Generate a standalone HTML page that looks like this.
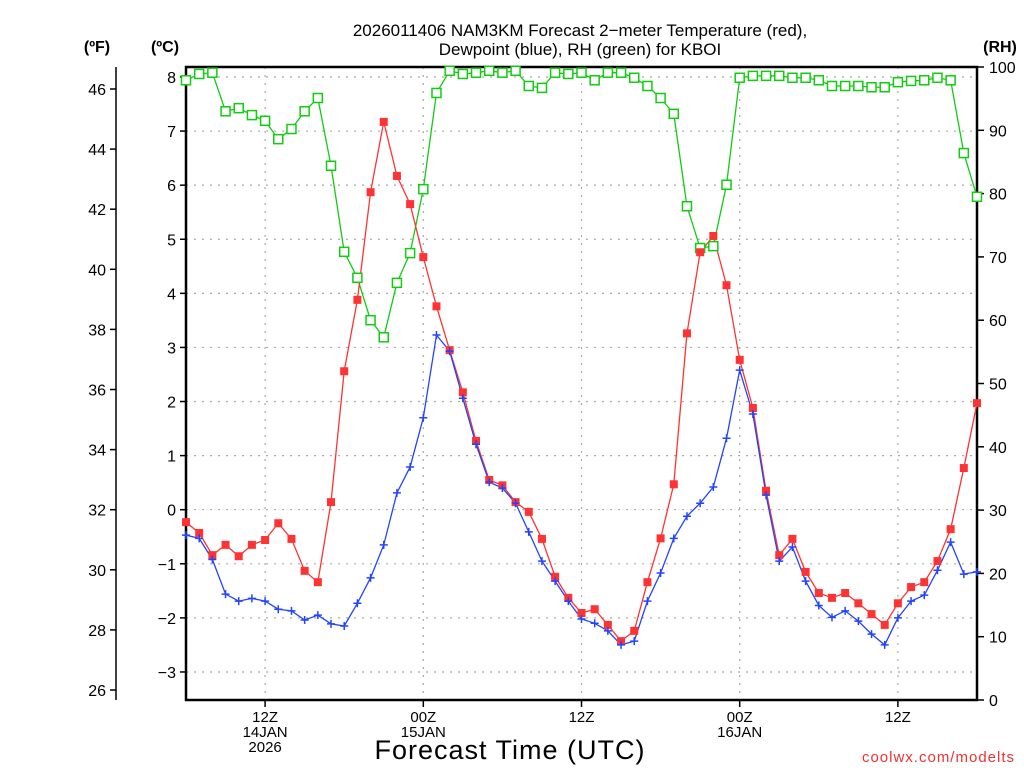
<!DOCTYPE html>
<html><head><meta charset="utf-8"><style>
html,body{margin:0;padding:0;background:#fff;}
svg{display:block;font-family:"Liberation Sans",sans-serif;}
</style></head><body>
<svg id="chart" width="1024" height="768" viewBox="0 0 1024 768">
<text x="580" y="36" text-anchor="middle" font-size="17">2026011406 NAM3KM Forecast 2−meter Temperature (red),</text>
<text x="580" y="55" text-anchor="middle" font-size="17">Dewpoint (blue), RH (green) for KBOI</text>
<text x="97" y="52" text-anchor="middle" font-size="16" font-weight="bold">(ºF)</text>
<text x="165" y="52" text-anchor="middle" font-size="16" font-weight="bold">(ºC)</text>
<text x="1000" y="52" text-anchor="middle" font-size="16" font-weight="bold">(RH)</text>
<text x="510" y="759" text-anchor="middle" font-size="27" letter-spacing="1">Forecast Time (UTC)</text>
<text x="1015" y="762" text-anchor="end" font-size="15" fill="#e33" letter-spacing="1">coolwx.com/modelts</text>
<g id="grid"></g>
<g id="axes"></g>
<g id="series"></g>
</svg>
<script>
const hours=[];for(let i=0;i<=60;i++)hours.push(i);
const tempC=[-0.23,-0.43,-0.84,-0.65,-0.86,-0.65,-0.56,-0.25,-0.54,-1.13,-1.34,0.14,2.56,3.88,5.87,7.17,6.17,5.65,4.67,3.76,2.95,2.17,1.27,0.55,0.45,0.14,-0.04,-0.54,-1.24,-1.63,-1.91,-1.84,-2.13,-2.43,-2.24,-1.34,-0.53,0.47,3.26,4.76,5.06,4.15,2.77,1.88,0.35,-0.84,-0.54,-1.15,-1.54,-1.63,-1.54,-1.73,-1.93,-2.13,-1.73,-1.43,-1.34,-0.95,-0.36,0.77,1.97];
const dewC=[-0.47,-0.53,-0.92,-1.56,-1.69,-1.64,-1.69,-1.84,-1.87,-2.04,-1.95,-2.11,-2.15,-1.73,-1.26,-0.65,0.31,0.79,1.70,3.23,2.93,2.06,1.21,0.51,0.40,0.12,-0.41,-0.95,-1.32,-1.69,-2.02,-2.10,-2.24,-2.50,-2.43,-1.69,-1.17,-0.53,-0.12,0.12,0.42,1.32,2.58,1.77,0.27,-0.95,-0.69,-1.32,-1.77,-1.99,-1.87,-2.06,-2.30,-2.50,-2.00,-1.69,-1.58,-1.12,-0.60,-1.19,-1.15];
const rh=[97.9,98.9,99.1,93.0,93.5,92.4,91.5,88.6,90.2,93.0,95.1,84.4,70.8,66.7,60.0,57.3,65.9,70.6,80.7,95.9,99.4,98.9,99.1,99.4,99.1,99.4,97.0,96.7,99.1,98.9,99.1,97.9,99.1,99.1,98.3,97.0,95.1,92.6,78.0,71.4,71.7,81.4,98.3,98.6,98.6,98.6,98.3,98.3,97.9,97.0,97.0,97.0,96.8,96.8,97.6,97.8,97.9,98.3,97.9,86.4,79.5];
const cTicks=[-3,-2,-1,0,1,2,3,4,5,6,7,8];
const fTicks=[26,28,30,32,34,36,38,40,42,44,46];
const rhTicks=[0,10,20,30,40,50,60,70,80,90,100];
const xTickHours=[6,18,30,42,54];
const xTickLabels=[["12Z","14JAN","2026"],["00Z","15JAN"],["12Z"],["00Z","16JAN"],["12Z"]];

const L=186,R=977,T=67,B=700;
const xs=h=>L+(R-L)*h/60;
const yC=c=>509.7-c*54.09;
const yF=f=>yC((f-32)/1.8);
const yR=r=>B-(B-T)*r/100;
const NS="http://www.w3.org/2000/svg";
function mk(tag,attrs,parent){const e=document.createElementNS(NS,tag);for(const k in attrs)e.setAttribute(k,attrs[k]);parent.appendChild(e);return e;}
const grid=document.getElementById('grid'),axes=document.getElementById('axes'),ser=document.getElementById('series');

cTicks.forEach(c=>{const y=yC(c);
 const g=mk('line',{x1:L,x2:R,y1:y,y2:y,stroke:'#aaa','stroke-width':1.2,'stroke-dasharray':'2,6'},grid);
 
 
 mk('line',{x1:L-6,x2:L,y1:y,y2:y,stroke:'#000','stroke-width':1.5},axes);
 const t=mk('text',{x:L-10,y:y+6,'text-anchor':'end','font-size':16},axes);t.textContent=c<0?'−'+(-c):c;
 
 
});
xTickHours.forEach((h,i)=>{const x=xs(h);
 const g=mk('line',{x1:x,x2:x,y1:T,y2:B,stroke:'#aaa','stroke-width':1.2,'stroke-dasharray':'2,6'},grid);
 
 
 mk('line',{x1:x,x2:x,y1:B,y2:B+7,stroke:'#000','stroke-width':1.5},axes);
 xTickLabels[i].forEach((s,j)=>{const t=mk('text',{x:x,y:B+22+j*15,'text-anchor':'middle','font-size':15},axes);t.textContent=s;
  
  });
});
const fa=mk('line',{x1:116,x2:116,y1:67,y2:700,stroke:'#000','stroke-width':1.5},axes);


fTicks.forEach(f=>{const y=yF(f);
 mk('line',{x1:110,x2:116,y1:y,y2:y,stroke:'#000','stroke-width':1.5},axes);
 const t=mk('text',{x:106,y:y+6,'text-anchor':'end','font-size':16},axes);t.textContent=f;
 
 
});
rhTicks.forEach(r=>{const y=yR(r);
 mk('line',{x1:R,x2:R+7,y1:y,y2:y,stroke:'#000','stroke-width':1.5},axes);
 const t=mk('text',{x:R+12,y:y+6,'font-size':16},axes);t.textContent=r;
 
 
});
const fr=mk('rect',{x:L,y:T,width:R-L,height:B-T,fill:'none',stroke:'#000','stroke-width':2.5},axes);



function line(vals,yf,color,name){
 const p=mk('polyline',{points:vals.map((v,i)=>xs(hours[i])+','+yf(v)).join(' '),fill:'none',stroke:color,'stroke-width':1.3},ser);
 
 
}
line(rh,yR,'#1c1','rh-line');
line(tempC,yC,'#f33','temperature-line');
line(dewC,yC,'#24f','dewpoint-line');
rh.forEach((v,i)=>{const m=mk('rect',{x:xs(hours[i])-4.5,y:yR(v)-4.5,width:9,height:9,fill:'#fff',stroke:'#1c1','stroke-width':1.5},ser);
 
 });
tempC.forEach((v,i)=>{const m=mk('rect',{x:xs(hours[i])-4,y:yC(v)-4,width:8,height:8,fill:'#f33'},ser);
 
 });
dewC.forEach((v,i)=>{const x=xs(hours[i]),y=yC(v);
 const m=mk('path',{d:`M${x-4},${y}H${x+4}M${x},${y-4}V${y+4}`,stroke:'#24f','stroke-width':1.5},ser);
 
 });
</script>
</body></html>
